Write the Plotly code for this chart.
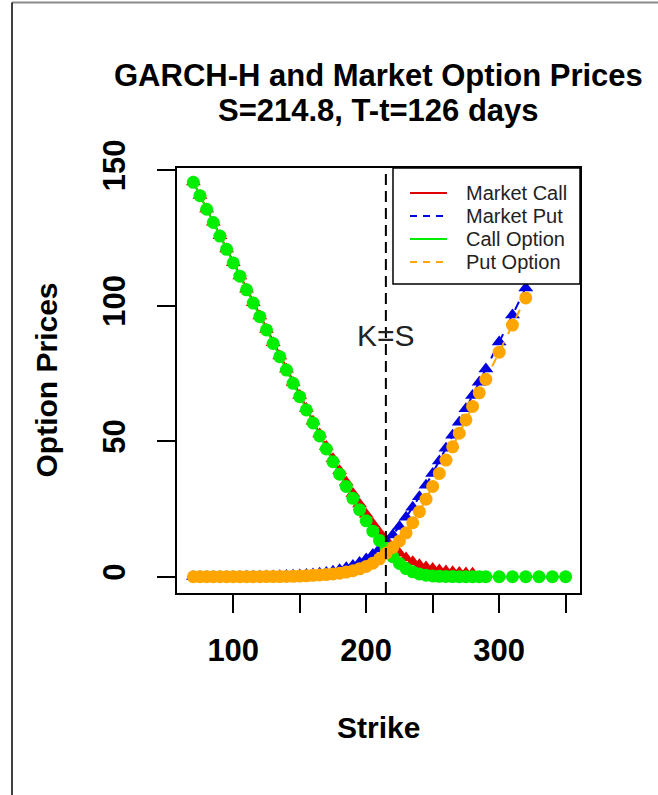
import plotly.graph_objects as go

# Spot and maturity shown in the title
S = 214.8
T_DAYS = 126

# Strike grids
call_model_strikes = [70, 75, 80, 85, 90, 95, 100, 105, 110, 115, 120, 125, 130, 135, 140,
                      145, 150, 155, 160, 165, 170, 175, 180, 185, 190, 195, 200, 205, 210,
                      215, 220, 225, 230, 235, 240, 245, 250, 255, 260, 265, 270, 275, 280,
                      285, 290, 300, 310, 320, 330, 340, 350]
put_strikes = [70, 75, 80, 85, 90, 95, 100, 105, 110, 115, 120, 125, 130, 135, 140,
               145, 150, 155, 160, 165, 170, 175, 180, 185, 190, 195, 200, 205, 210,
               215, 220, 225, 230, 235, 240, 245, 250, 255, 260, 265, 270, 275, 280,
               285, 290, 300, 310, 320]
call_market_strikes = [70, 75, 80, 85, 90, 95, 100, 105, 110, 115, 120, 125, 130, 135, 140,
                       145, 150, 155, 160, 165, 170, 175, 180, 185, 190, 195, 200, 205, 210,
                       215, 220, 225, 230, 235, 240, 245, 250, 255, 260, 265, 270, 275, 280]

# Market prices
market_call = [145.5, 140.6, 135.6, 130.7, 125.7, 120.8, 115.8, 110.9, 106.0, 101.0, 96.1,
               91.2, 86.3, 81.4, 76.5, 71.6, 66.8, 62.0, 57.3, 52.6, 48.0, 43.5, 39.1, 34.8,
               30.7, 26.8, 23.0, 19.5, 16.3, 13.5, 10.9, 8.7, 6.9, 5.5, 4.4, 3.6, 3.0, 2.5,
               2.1, 1.8, 1.6, 1.4, 1.3]
market_put = [0.05, 0.05, 0.06, 0.07, 0.08, 0.09, 0.1, 0.12, 0.14, 0.17, 0.2, 0.24, 0.29,
              0.35, 0.42, 0.5, 0.62, 0.78, 0.98, 1.25, 1.6, 2.05, 2.6, 3.3, 4.1, 5.2, 6.5,
              8.2, 10.2, 12.6, 15.4, 18.5, 21.9, 25.6, 29.5, 33.7, 38.1, 42.7, 47.4, 52.2,
              57.0, 61.9, 66.8, 71.7, 76.6, 86.5, 96.5, 106.5]

# GARCH-H model prices
model_call = [145.4, 140.5, 135.5, 130.6, 125.6, 120.7, 115.7, 110.8, 105.8, 100.9, 95.9,
              91.0, 86.0, 81.1, 76.2, 71.3, 66.4, 61.5, 56.7, 51.9, 47.1, 42.4, 37.8, 33.3,
              28.9, 24.7, 20.6, 16.8, 13.4, 10.5, 7.4, 4.9, 3.0, 1.8, 1.0, 0.55, 0.3, 0.15,
              0.08, 0.04, 0.02, 0.01, 0.0, 0.0, 0.0, 0.0, 0.0, 0.0, 0.0, 0.0, 0.0]
model_put = [0.0, 0.0, 0.0, 0.0, 0.0, 0.0, 0.0, 0.01, 0.01, 0.02, 0.03, 0.04, 0.05, 0.07,
             0.1, 0.15, 0.25, 0.35, 0.5, 0.65, 0.8, 1.0, 1.3, 1.7, 2.2, 2.9, 3.8, 5.0, 6.6,
             8.7, 10.8, 13.2, 16.2, 19.9, 24.0, 28.6, 33.3, 38.1, 43.0, 47.9, 52.9, 57.8,
             62.8, 67.8, 72.8, 82.8, 92.8, 102.8]

# Axis ticks
x_tick_vals = [100, 150, 200, 250, 300, 350]
x_tick_text = ["100", "", "200", "", "300", ""]
y_tick_vals = [0, 50, 100, 150]
y_tick_text = ["0", "50", "100", "150"]

series_names = ["Market Call", "Market Put", "Call Option", "Put Option"]
series_colors = ["#e00000", "#0000e0", "#00ee00", "#ffa500"]
series_dash = ["solid", "dash", "solid", "dash"]

# Plot-area placement in pixels
W, H = 658, 795
L, R, T, B = 177, 580, 168, 593


def px(x):
    return (x - L) / (R - L)


def py(y):
    return (B - y) / (B - T)


FONT = "Liberation Sans, Arial, sans-serif"

fig = go.Figure()

data = [
    (call_market_strikes, market_call, "triangle-up"),
    (put_strikes, market_put, "triangle-up"),
    (call_model_strikes, model_call, "circle"),
    (put_strikes, model_put, "circle"),
]
for (xs, ys, sym), name, col, dash in zip(data, series_names, series_colors, series_dash):
    fig.add_trace(go.Scatter(
        x=xs, y=ys, name=name, mode="lines+markers", showlegend=False,
        line=dict(color=col, width=2, dash=dash),
        marker=dict(symbol=sym, size=13, color=col, line=dict(width=0)),
    ))

shapes = [
    # K = S reference line
    dict(type="line", xref="x", yref="paper", x0=S, x1=S, y0=0, y1=1,
         line=dict(color="black", width=2, dash="11px,6px")),
    # page frame
    dict(type="line", xref="paper", yref="paper", x0=px(12), x1=px(W), y0=py(2.5), y1=py(2.5),
         line=dict(color="#8a8a8a", width=2)),
    dict(type="line", xref="paper", yref="paper", x0=px(12), x1=px(12), y0=py(2.5), y1=py(H),
         line=dict(color="black", width=1.5)),
    # legend box
    dict(type="rect", xref="paper", yref="paper", x0=px(393), x1=1, y0=py(284), y1=1,
         fillcolor="white", line=dict(color="black", width=1.5)),
]

annotations = [
    dict(text="<b>GARCH-H and Market Option Prices</b>", x=0.5, y=py(75), xref="paper",
         yref="paper", showarrow=False, xanchor="center", yanchor="middle",
         font=dict(family=FONT, size=31, color="black")),
    dict(text=f"<b>S={S}, T-t={T_DAYS} days</b>", x=0.5, y=py(110), xref="paper",
         yref="paper", showarrow=False, xanchor="center", yanchor="middle",
         font=dict(family=FONT, size=31, color="black")),
    dict(text="<b>Strike</b>", x=0.5, y=py(727), xref="paper", yref="paper",
         showarrow=False, xanchor="center", yanchor="middle",
         font=dict(family=FONT, size=30, color="black")),
    dict(text="<b>Option Prices</b>", x=px(46), y=0.5, xref="paper", yref="paper",
         showarrow=False, xanchor="center", yanchor="middle", textangle=-90,
         font=dict(family=FONT, size=30, color="black")),
    dict(text="K=S", x=S, y=89, xref="x", yref="y", showarrow=False,
         xanchor="center", yanchor="middle",
         font=dict(family=FONT, size=30, color="#222222")),
]

# legend entries
legend_rows = [193, 216, 239, 262]
for row, name, col, dash in zip(legend_rows, series_names, series_colors, series_dash):
    shapes.append(dict(type="line", xref="paper", yref="paper", x0=px(410), x1=px(447),
                       y0=py(row), y1=py(row),
                       line=dict(color=col, width=2,
                                 dash="solid" if dash == "solid" else "7px,6px")))
    annotations.append(dict(text=name, x=px(464), y=py(row), xref="paper", yref="paper",
                            showarrow=False, xanchor="left", yanchor="middle",
                            font=dict(family=FONT, size=20, color="#222222")))

fig.update_layout(
    width=W, height=H,
    margin=dict(l=L, r=W - R, t=T, b=H - B),
    paper_bgcolor="white", plot_bgcolor="white",
    showlegend=False,
    shapes=shapes, annotations=annotations,
    xaxis=dict(range=[57.7, 360.8], tickvals=x_tick_vals, ticktext=x_tick_text,
               ticks="outside", ticklen=18, tickwidth=1.5, tickcolor="black",
               showline=True, mirror=True, linecolor="black", linewidth=1.5,
               showgrid=False, zeroline=False, ticklabelstandoff=11,
               tickfont=dict(family=FONT, size=31, color="black", weight="bold")),
    yaxis=dict(range=[-6.0, 150.7], tickvals=y_tick_vals, ticktext=y_tick_text,
               ticks="outside", ticklen=18, tickwidth=1.5, tickcolor="black",
               showline=True, mirror=True, linecolor="black", linewidth=1.5,
               showgrid=False, zeroline=False, tickangle=-90, ticklabelstandoff=20,
               tickfont=dict(family=FONT, size=31, color="black", weight="bold")),
)

fig.write_html("out.html")
